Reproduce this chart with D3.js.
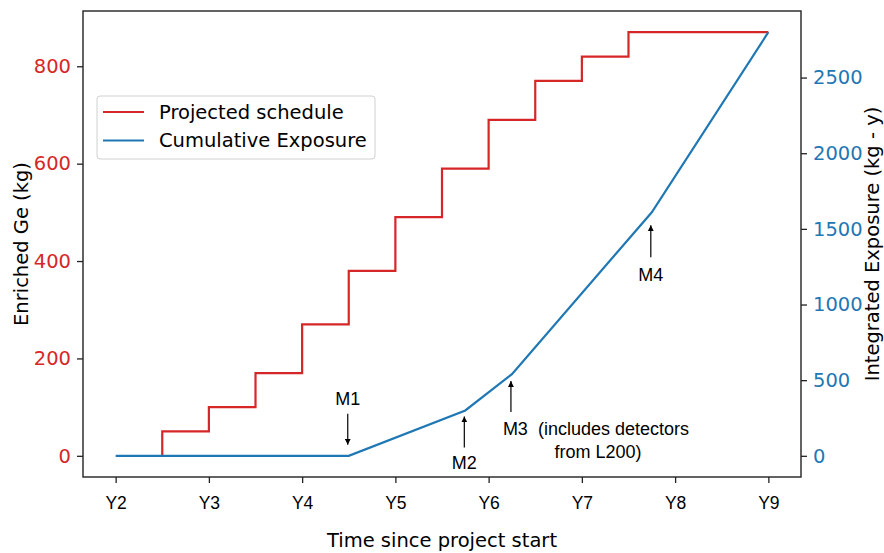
<!DOCTYPE html>
<html><head><meta charset="utf-8">
<script src="https://cdn.jsdelivr.net/npm/d3@7"></script>
<style>
body{margin:0;background:#fff;}
svg{display:block;}
</style></head>
<body>
<script>
const yearTicks = [2,3,4,5,6,7,8,9];
const yearLabels = ["Y2","Y3","Y4","Y5","Y6","Y7","Y8","Y9"];
const scheduleX = [2.5,2.5,3,3.5,4,4.5,5,5.5,6,6.5,7,7.5,9];
const scheduleKg = [0,50,100,170,270,380,490,590,690,770,820,870,870];
const exposureX = [2,4.5,5.75,6.25,7.75,9];
const exposureKgY = [0,0,300,540,1610,2800];
const leftTicks = [0,200,400,600,800];
const rightTicks = [0,500,1000,1500,2000,2500];
const milestones = ["M1","M2","M3","M4"];
const milestoneX = [4.5,5.75,6.25,7.75];
const milestoneY = [0,300,540,1610];

const W=884,H=553;
const red="#d62728", blue="#1f77b4";
const L=83,R=801,T=11,B=477;
const svg=d3.select("body").append("svg").attr("width",W).attr("height",H);

const x=d3.scaleLinear().domain([1.65,9.35]).range([L,R]);
const yL=d3.scaleLinear().domain([-43.5,913.5]).range([B,T]);
const yR=d3.scaleLinear().domain([-140,2940]).range([B,T]);

const sans="DejaVu Sans";
const arial="Liberation Sans, Arial, sans-serif";
const FS=19.5;

// lines
const stepLine=d3.line().x(i=>x(scheduleX[i])).y(i=>yL(scheduleKg[i])).curve(d3.curveStepAfter);
svg.append("path").attr("d",stepLine(d3.range(scheduleX.length)))
  .attr("fill","none").attr("stroke",red).attr("stroke-width",2.2);
const expLine=d3.line().x(i=>x(exposureX[i])).y(i=>yR(exposureKgY[i]));
svg.append("path").attr("d",expLine(d3.range(exposureX.length)))
  .attr("fill","none").attr("stroke",blue).attr("stroke-width",2.2);

// axes
const gx=svg.append("g").attr("transform",`translate(0,${B})`)
  .call(d3.axisBottom(x).tickValues(yearTicks).tickFormat((d,i)=>yearLabels[i]).tickSizeOuter(0).tickSize(6).tickPadding(14));
gx.selectAll("text").attr("font-family",arial).attr("font-size",17.5).attr("fill","#000").attr("dy","0.71em");
const gl=svg.append("g").attr("transform",`translate(${L},0)`)
  .call(d3.axisLeft(yL).tickValues(leftTicks).tickSizeOuter(0).tickSize(6).tickPadding(6));
gl.selectAll("text").attr("font-family",sans).attr("font-size",FS).attr("fill",red);
const gr=svg.append("g").attr("transform",`translate(${R},0)`)
  .call(d3.axisRight(yR).tickValues(rightTicks).tickFormat(d3.format("d")).tickSizeOuter(0).tickSize(6).tickPadding(6));
gr.selectAll("text").attr("font-family",sans).attr("font-size",FS).attr("fill",blue);
[gx,gl,gr].forEach(g=>{g.select(".domain").remove();g.selectAll("line").attr("stroke","#222").attr("stroke-width",1.3);});
svg.append("rect").attr("x",L).attr("y",T).attr("width",R-L).attr("height",B-T)
  .attr("fill","none").attr("stroke","#222").attr("stroke-width",1.4);

// axis labels
svg.append("text").attr("x",(L+R)/2).attr("y",547).attr("text-anchor","middle")
  .attr("font-family",sans).attr("font-size",FS).text("Time since project start");
svg.append("text").attr("transform",`translate(28,${(T+B)/2}) rotate(-90)`).attr("text-anchor","middle")
  .attr("font-family",sans).attr("font-size",FS).text("Enriched Ge (kg)");
svg.append("text").attr("transform",`translate(879,${(T+B)/2}) rotate(-90)`).attr("text-anchor","middle")
  .attr("font-family",sans).attr("font-size",FS).text("Integrated Exposure (kg - y)");

// annotations
const defs=svg.append("defs");
defs.append("marker").attr("id","ah").attr("viewBox","0 0 10 10").attr("refX",10).attr("refY",5)
  .attr("markerWidth",6).attr("markerHeight",6).attr("markerUnits","userSpaceOnUse").attr("orient","auto")
  .append("path").attr("d","M0,0L10,5L0,10z").attr("fill","#000");
const ann=[
  {tail:-42,tip:-11,ty:-51},
  {tail:37,tip:6,ty:59},
  {tail:38,tip:7,ty:61},
  {tail:45,tip:13,ty:69}
];
milestones.forEach((m,i)=>{
  const px=x(milestoneX[i]), py=yR(milestoneY[i]);
  const a=ann[i];
  svg.append("line").attr("x1",px-1).attr("x2",px-1).attr("y1",py+a.tail).attr("y2",py+a.tip)
    .attr("stroke","#000").attr("stroke-width",1.2).attr("marker-end","url(#ah)");
  if(i===2){
    const t=svg.append("text").attr("font-family",arial).attr("font-size",18).attr("text-anchor","middle")
      .style("white-space","pre").attr("xml:space","preserve");
    t.append("tspan").attr("x",px+84).attr("y",py+a.ty).text(m+"  (includes detectors");
    t.append("tspan").attr("x",px+86).attr("y",py+a.ty+23).text("from L200)");
  } else {
    svg.append("text").attr("x",px-1).attr("y",py+a.ty).attr("text-anchor","middle")
      .attr("font-family",arial).attr("font-size",18).text(m);
  }
});

// legend
const lg=svg.append("g");
lg.append("rect").attr("x",97).attr("y",96).attr("width",278).attr("height",63).attr("rx",3)
  .attr("fill","#fff").attr("fill-opacity",0.8).attr("stroke","#d0d0d0").attr("stroke-width",1);
[["Projected schedule",red],["Cumulative Exposure",blue]].forEach((d,i)=>{
  const yy=112+i*28.5;
  lg.append("line").attr("x1",103).attr("x2",144).attr("y1",yy).attr("y2",yy).attr("stroke",d[1]).attr("stroke-width",2.2);
  lg.append("text").attr("x",159).attr("y",yy).attr("dy","0.35em").attr("font-family",sans).attr("font-size",FS).text(d[0]);
});
</script>
</body></html>
